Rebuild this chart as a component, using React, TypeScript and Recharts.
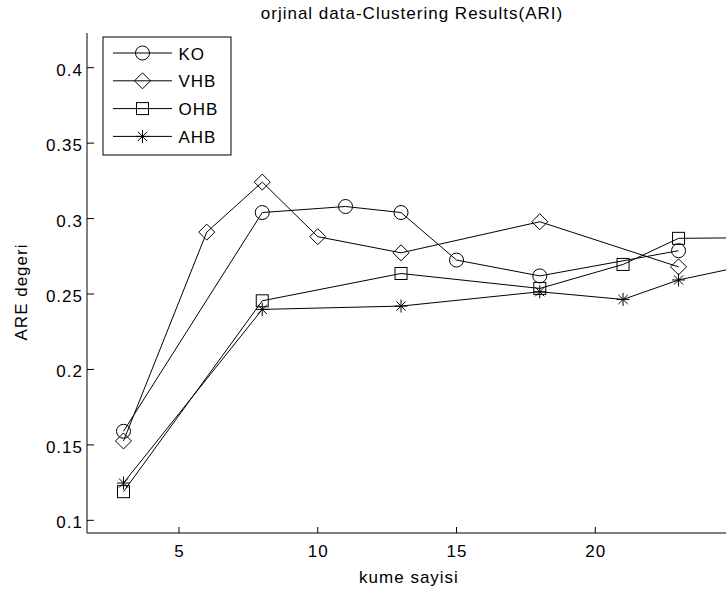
import React from 'react';
import { LineChart, Line, XAxis, YAxis } from 'recharts';

// Cluster counts (x) and ARI scores (y) for each method
const koX = [3, 8, 11, 13, 15, 18, 23];
const koY = [0.159, 0.304, 0.308, 0.304, 0.2725, 0.262, 0.2787];

const vhbX = [3, 6, 8, 10, 13, 18, 23];
const vhbY = [0.1526, 0.291, 0.3242, 0.288, 0.2773, 0.2979, 0.268];

const ohbX = [3, 8, 13, 18, 21, 23, 25];
const ohbY = [0.119, 0.2455, 0.2636, 0.2537, 0.2696, 0.2869, 0.2872];

const ahbX = [3, 8, 13, 18, 21, 23, 25];
const ahbY = [0.1247, 0.2398, 0.242, 0.2515, 0.2464, 0.2593, 0.2671];

const seriesNames = ['KO', 'VHB', 'OHB', 'AHB'];

const xTicks = [5, 10, 15, 20];
const yTicks = [0.1, 0.15, 0.2, 0.25, 0.3, 0.35, 0.4];

const xDomain = [1.685, 24.89];
const yDomain = [0.0916, 0.423];

const FONT = '"Liberation Sans", Arial, Helvetica, sans-serif';
const FS = 17;
const LS = 1;
const INK = '#000';

type Kind = 'circle' | 'diamond' | 'square' | 'star';

const zip = (xs: number[], ys: number[]) => xs.map((x, i) => ({ x, y: ys[i] }));

const series: { name: string; kind: Kind; data: { x: number; y: number }[] }[] = [
  { name: seriesNames[0], kind: 'circle', data: zip(koX, koY) },
  { name: seriesNames[1], kind: 'diamond', data: zip(vhbX, vhbY) },
  { name: seriesNames[2], kind: 'square', data: zip(ohbX, ohbY) },
  { name: seriesNames[3], kind: 'star', data: zip(ahbX, ahbY) },
];

function Marker({ kind, cx, cy }: { kind: Kind; cx: number; cy: number }) {
  if (cx == null || cy == null || isNaN(cx) || isNaN(cy)) return null;
  switch (kind) {
    case 'circle':
      return <circle cx={cx} cy={cy} r={7} fill="none" stroke={INK} strokeWidth={1} />;
    case 'diamond': {
      const h = 8;
      return (
        <polygon
          points={`${cx},${cy - h} ${cx + h},${cy} ${cx},${cy + h} ${cx - h},${cy}`}
          fill="none"
          stroke={INK}
          strokeWidth={1}
        />
      );
    }
    case 'square':
      return <rect x={cx - 6} y={cy - 6} width={12} height={12} fill="none" stroke={INK} strokeWidth={1} />;
    case 'star': {
      const r = 6.5;
      const d = 4.6;
      return (
        <path
          d={`M${cx - r},${cy}H${cx + r}M${cx},${cy - r}V${cy + r}M${cx - d},${cy - d}L${cx + d},${cy + d}M${cx - d},${cy + d}L${cx + d},${cy - d}`}
          fill="none"
          stroke={INK}
          strokeWidth={1}
        />
      );
    }
  }
  return null;
}

const textStyle = { fontFamily: FONT, fontSize: FS, letterSpacing: LS, fill: INK } as const;

const YTick = (p: any) => {
  const { x, y, payload } = p;
  return (
    <g>
      <line x1={x} y1={y} x2={x + 7} y2={y} stroke={INK} strokeWidth={1} />
      <text x={x - 4} y={y + 8} textAnchor="end" style={textStyle}>
        {String(payload.value)}
      </text>
    </g>
  );
};

const XTick = (p: any) => {
  const { x, y, payload } = p;
  return (
    <g>
      <line x1={x} y1={y} x2={x} y2={y - 6} stroke={INK} strokeWidth={1} />
      <text x={x + 0.5} y={y + 24} textAnchor="middle" style={textStyle}>
        {String(payload.value)}
      </text>
    </g>
  );
};

function LegendBox() {
  const left = 103;
  const top = 37;
  const rowGap = 27.8;
  return (
    <g>
      <rect x={left} y={top} width={128} height={118} fill="#fff" stroke={INK} strokeWidth={1} />
      {series.map((s, i) => {
        const cy = top + 16 + i * rowGap;
        return (
          <g key={s.name}>
            <line x1={left + 10} y1={cy} x2={left + 69} y2={cy} stroke={INK} strokeWidth={1} />
            <Marker kind={s.kind} cx={left + 39.5} cy={cy} />
            <text x={left + 75.5} y={cy + 6.5} style={textStyle}>
              {s.name}
            </text>
          </g>
        );
      })}
    </g>
  );
}

export default function App() {
  return (
    <div
      style={{
        position: 'absolute',
        left: 0,
        top: 0,
        width: 726,
        height: 594,
        overflow: 'hidden',
        background: '#fff',
      }}
    >
      <LineChart width={740} height={594} margin={{ top: 33, right: 9, bottom: 0, left: 0 }}>
        <XAxis
          type="number"
          dataKey="x"
          domain={xDomain}
          allowDataOverflow
          ticks={xTicks}
          interval={0}
          height={61}
          tickSize={0}
          tickMargin={0}
          tickLine={false}
          axisLine={{ stroke: INK, strokeWidth: 1 }}
          tick={<XTick />}
          label={{
            value: 'kume sayisi',
            position: 'insideBottom',
            offset: 11,
            style: textStyle,
          }}
        />
        <YAxis
          type="number"
          domain={yDomain}
          allowDataOverflow
          ticks={yTicks}
          interval={0}
          width={87}
          tickSize={0}
          tickMargin={0}
          tickLine={false}
          axisLine={{ stroke: INK, strokeWidth: 1 }}
          tick={<YTick />}
        />
        {series.map((s) => (
          <Line
            key={s.name}
            name={s.name}
            data={s.data}
            dataKey="y"
            type="linear"
            stroke={INK}
            strokeWidth={1}
            isAnimationActive={false}
            activeDot={false}
            dot={(props: any) => (
              <Marker key={`${s.name}-${props.index}`} kind={s.kind} cx={props.cx} cy={props.cy} />
            )}
          />
        ))}
        <text x={412} y={19} textAnchor="middle" style={textStyle}>
          orjinal data-Clustering Results(ARI)
        </text>
        <text transform="translate(27,292) rotate(-90)" textAnchor="middle" style={textStyle}>
          ARE degeri
        </text>
        <LegendBox />
      </LineChart>
    </div>
  );
}
